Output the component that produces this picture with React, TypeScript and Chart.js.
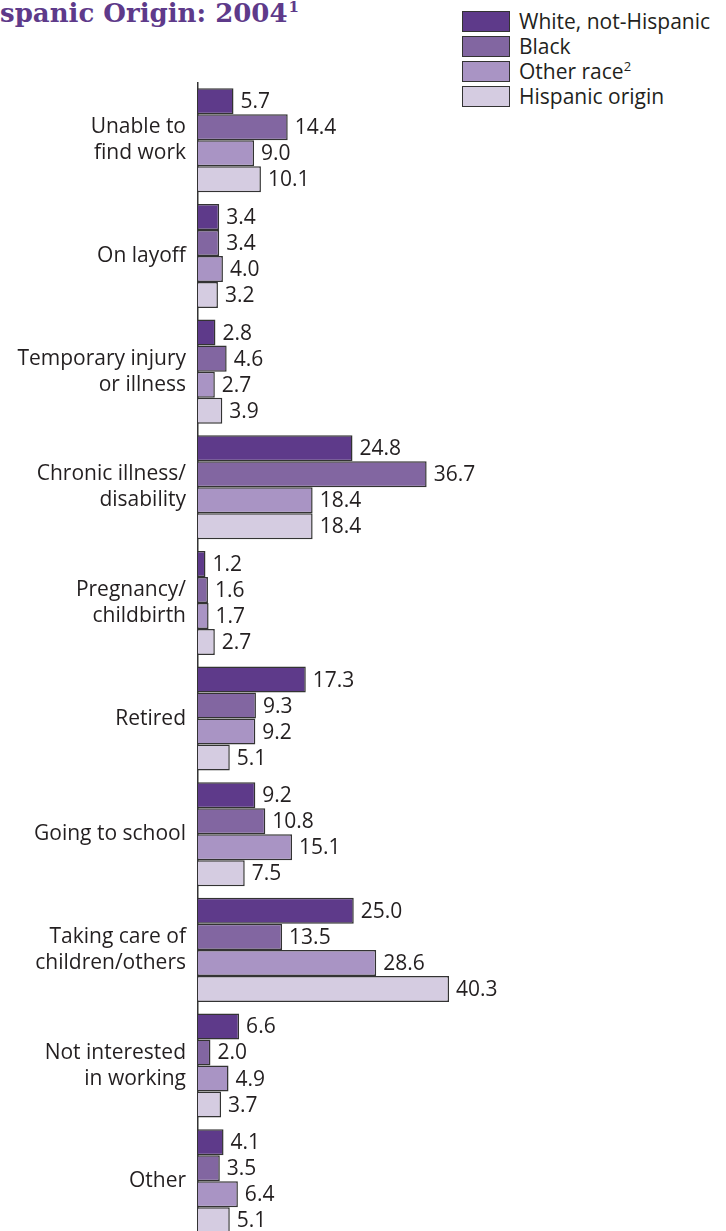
import React, { useEffect, useRef } from "react";
import { Chart, registerables } from "chart.js";

Chart.register(...registerables);

const categories: string[][] = [
  ["Unable to", "find work"],
  ["On layoff"],
  ["Temporary injury", "or illness"],
  ["Chronic illness/", "disability"],
  ["Pregnancy/", "childbirth"],
  ["Retired"],
  ["Going to school"],
  ["Taking care of", "children/others"],
  ["Not interested", "in working"],
  ["Other"],
];

const whiteNotHispanic = [5.7, 3.4, 2.8, 24.8, 1.2, 17.3, 9.2, 25.0, 6.6, 4.1];
const black = [14.4, 3.4, 4.6, 36.7, 1.6, 9.3, 10.8, 13.5, 2.0, 3.5];
const otherRace = [9.0, 4.0, 2.7, 18.4, 1.7, 9.2, 15.1, 28.6, 4.9, 6.4];
const hispanicOrigin = [10.1, 3.2, 3.9, 18.4, 2.7, 5.1, 7.5, 40.3, 3.7, 5.1];

const seriesNames = ["White, not-Hispanic", "Black", "Other race", "Hispanic origin"];
const seriesSup = ["", "", "2", ""];
const seriesColors = ["#5e3a8a", "#8266a1", "#a994c4", "#d5cce1"];

const FONT = "'Open Sans', sans-serif";
const TEXT_COLOR = "#231f20";

const valueLabels = {
  id: "valueLabels",
  afterDatasetsDraw(chart: any) {
    const ctx = chart.ctx;
    ctx.save();
    ctx.font = `21px ${FONT}`;
    ctx.fillStyle = TEXT_COLOR;
    ctx.textAlign = "left";
    ctx.textBaseline = "middle";
    chart.data.datasets.forEach((ds: any, i: number) => {
      const meta = chart.getDatasetMeta(i);
      meta.data.forEach((el: any, j: number) => {
        ctx.fillText(Number(ds.data[j]).toFixed(1), el.x + 7, el.y + 1);
      });
    });
    ctx.restore();
  },
};

export default function App() {
  const ref = useRef<HTMLCanvasElement>(null);
  useEffect(() => {
    if (!ref.current) return;
    const chart = new Chart(ref.current, {
      type: "bar",
      data: {
        labels: categories,
        datasets: [whiteNotHispanic, black, otherRace, hispanicOrigin].map((d, i) => ({
          label: seriesNames[i],
          data: d,
          backgroundColor: seriesColors[i],
          borderColor: "#333333",
          borderWidth: 1.5,
          categoryPercentage: 0.9,
          barPercentage: 1.0,
        })),
      },
      options: {
        indexAxis: "y",
        animation: false,
        responsive: false,
        maintainAspectRatio: false,
        layout: { padding: { top: 82.5, right: 216.5, bottom: 0, left: 0 } },
        plugins: {
          legend: { display: false },
          tooltip: { enabled: false },
          title: { display: false },
        },
        scales: {
          x: {
            display: false,
            min: 0,
            max: 50,
          },
          y: {
            grid: { display: false, drawTicks: false },
            border: { display: true, color: "#333333", width: 1.5 },
            ticks: {
              padding: 12,
              color: TEXT_COLOR,
              font: { family: FONT, size: 21, lineHeight: "26px" },
            },
            afterFit: (scale: any) => {
              scale.width = 198;
              scale.paddingTop = 0;
              scale.paddingBottom = 0;
            },
          },
        },
      },
      plugins: [valueLabels],
    });
    return () => chart.destroy();
  }, []);

  return (
    <div
      style={{
        position: "fixed",
        left: 0,
        top: 0,
        width: 726,
        height: 1231,
        overflow: "hidden",
        background: "#ffffff",
      }}
    >
      <div
        style={{
          position: "absolute",
          left: 0,
          top: 0,
          fontFamily: "'DejaVu Serif', serif",
          fontWeight: "bold",
          fontSize: 26,
          lineHeight: "26px",
          color: "#5e3a8a",
          whiteSpace: "nowrap",
        }}
      >
        spanic Origin: 2004
        <span
          style={{
            fontSize: 15,
            lineHeight: "15px",
            verticalAlign: "top",
            position: "relative",
            top: 0,
            marginLeft: 1,
          }}
        >
          1
        </span>
      </div>
      {seriesNames.map((name, i) => (
        <div key={name}>
          <div
            style={{
              position: "absolute",
              left: 462,
              top: 11 + i * 25,
              width: 48,
              height: 21,
              boxSizing: "border-box",
              border: "1.5px solid #333333",
              background: seriesColors[i],
            }}
          />
          <div
            style={{
              position: "absolute",
              left: 519,
              top: 8 + i * 25,
              height: 26,
              lineHeight: "26px",
              fontFamily: FONT,
              fontSize: 21,
              color: TEXT_COLOR,
              whiteSpace: "nowrap",
            }}
          >
            {name}
            {seriesSup[i] ? (
              <span
                style={{
                  fontSize: 13,
                  lineHeight: "13px",
                  verticalAlign: "top",
                  position: "relative",
                  top: 2,
                }}
              >
                {seriesSup[i]}
              </span>
            ) : null}
          </div>
        </div>
      ))}
      <canvas
        ref={ref}
        width={726}
        height={1239}
        style={{ position: "absolute", left: 0, top: 0, width: 726, height: 1239 }}
      />
    </div>
  );
}
